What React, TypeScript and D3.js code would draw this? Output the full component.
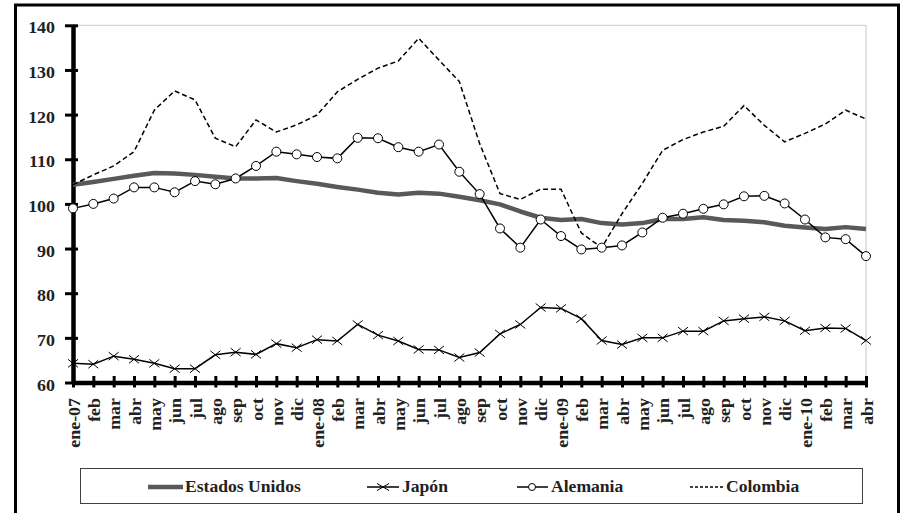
import React, { useEffect, useRef } from 'react';
import * as d3 from 'd3';

const months = [
  'ene-07', 'feb', 'mar', 'abr', 'may', 'jun', 'jul', 'ago', 'sep', 'oct', 'nov', 'dic',
  'ene-08', 'feb', 'mar', 'abr', 'may', 'jun', 'jul', 'ago', 'sep', 'oct', 'nov', 'dic',
  'ene-09', 'feb', 'mar', 'abr', 'may', 'jun', 'jul', 'ago', 'sep', 'oct', 'nov', 'dic',
  'ene-10', 'feb', 'mar', 'abr',
];

const estadosUnidos = [
  104.3, 104.9, 105.6, 106.3, 106.9, 106.8, 106.5, 106.1, 105.7, 105.7, 105.8, 105.1,
  104.5, 103.8, 103.2, 102.5, 102.1, 102.5, 102.3, 101.6, 100.8, 99.9, 98.3, 96.9,
  96.4, 96.6, 95.7, 95.4, 95.7, 96.6, 96.6, 97.0, 96.4, 96.2, 95.9, 95.1,
  94.7, 94.4, 94.8, 94.4,
];

const japon = [
  64.3, 64.1, 65.9, 65.2, 64.3, 63.1, 63.1, 66.2, 66.8, 66.3, 68.7, 67.8,
  69.6, 69.3, 73.0, 70.6, 69.3, 67.4, 67.3, 65.6, 66.7, 70.9, 73.0, 76.8,
  76.6, 74.3, 69.4, 68.5, 70.0, 70.0, 71.5, 71.5, 73.8, 74.3, 74.7, 73.8,
  71.6, 72.2, 72.1, 69.4,
];

const alemania = [
  99.0, 100.0, 101.2, 103.7, 103.7, 102.6, 105.1, 104.4, 105.7, 108.5, 111.7, 111.1,
  110.5, 110.2, 114.8, 114.7, 112.7, 111.7, 113.3, 107.2, 102.2, 94.5, 90.2, 96.5,
  92.8, 89.8, 90.2, 90.7, 93.6, 96.9, 97.8, 98.9, 99.9, 101.7, 101.8, 100.1,
  96.5, 92.5, 92.1, 88.3,
];

const colombia = [
  104.3, 106.5, 108.5, 111.7, 121.0, 125.3, 123.3, 114.7, 112.8, 118.8, 116.1, 117.7,
  119.9, 125.1, 127.9, 130.4, 132.0, 137.1, 132.2, 127.4, 113.5, 102.3, 101.0, 103.3,
  103.3, 93.5, 90.2, 97.8, 104.6, 112.0, 114.4, 116.1, 117.4, 122.0, 117.6, 113.9,
  115.8, 117.9, 121.0, 119.0,
];

const yTicks = [60, 70, 80, 90, 100, 110, 120, 130, 140];

const App = () => {
  const chartRef = useRef<SVGSVGElement>(null);

  useEffect(() => {
    if (!chartRef.current) return;
    const svg = d3.select(chartRef.current);
    svg.selectAll('*').remove();

    const font = '"Liberation Serif", "Times New Roman", serif';
    const x = d3.scaleLinear().domain([0, months.length - 1]).range([73, 866]);
    const y = d3.scaleLinear().domain([60, 140]).range([382.5, 25.3]);

    // outer frame
    svg.append('rect')
      .attr('x', 15.5).attr('y', 5)
      .attr('width', 883).attr('height', 530)
      .attr('fill', 'white')
      .attr('stroke', '#000')
      .attr('stroke-width', 3);

    // light plot border (top + right)
    svg.append('path')
      .attr('d', `M${x(0)},${y(140)}H${x(months.length - 1)}V${y(60)}`)
      .attr('fill', 'none')
      .attr('stroke', '#c8c8c8');

    // y axis
    const yAxis = svg.append('g')
      .attr('transform', `translate(${x(0)},0)`)
      .call(d3.axisLeft(y).tickValues(yTicks).tickSizeInner(8).tickSizeOuter(0).tickFormat(() => ''));
    yAxis.select('.domain').attr('stroke', '#000').attr('stroke-width', 4.5);
    yAxis.selectAll('.tick line').attr('x1', 5).attr('x2', -8).attr('stroke', '#000').attr('stroke-width', 3);

    svg.append('g').selectAll('text')
      .data(yTicks)
      .enter()
      .append('text')
      .attr('transform', d => `translate(55,${y(d) + 8}) scale(1.12,1)`)
      .attr('text-anchor', 'end')
      .attr('font-family', font)
      .attr('font-weight', 'bold')
      .attr('font-size', 16)
      .attr('fill', '#222')
      .text(d => d);

    // x axis
    const xAxis = svg.append('g')
      .attr('transform', `translate(0,${y(60)})`)
      .call(d3.axisBottom(x).tickValues(d3.range(months.length)).tickSizeInner(5).tickSizeOuter(0).tickFormat(() => ''));
    xAxis.select('.domain').attr('stroke', '#000').attr('stroke-width', 4.5);
    xAxis.selectAll('.tick line').attr('y1', -6.5).attr('y2', 5).attr('stroke', '#000').attr('stroke-width', 3);

    svg.append('g').selectAll('text')
      .data(months)
      .enter()
      .append('text')
      .attr('transform', (d, i) => `translate(${x(i) + 6.5},398) rotate(-90) scale(1.12,1)`)
      .attr('text-anchor', 'end')
      .attr('font-family', font)
      .attr('font-weight', 'bold')
      .attr('font-size', 16)
      .attr('fill', '#222')
      .text(d => d);

    const line = d3.line<number>().x((d, i) => x(i)).y(d => y(d));

    // Estados Unidos
    svg.append('path')
      .attr('d', line(estadosUnidos))
      .attr('fill', 'none')
      .attr('stroke', '#595959')
      .attr('stroke-width', 4.5)
      .attr('stroke-linejoin', 'round');

    // Colombia
    svg.append('path')
      .attr('d', line(colombia))
      .attr('fill', 'none')
      .attr('stroke', '#000')
      .attr('stroke-width', 1.5)
      .attr('stroke-dasharray', '5,3');

    // Japón
    svg.append('path')
      .attr('d', line(japon))
      .attr('fill', 'none')
      .attr('stroke', '#000')
      .attr('stroke-width', 1.5);
    svg.append('g').selectAll('path')
      .data(japon)
      .enter()
      .append('path')
      .attr('transform', (d, i) => `translate(${x(i)},${y(d)})`)
      .attr('d', 'M-5,-4L5,4M-5,4L5,-4')
      .attr('stroke', '#000')
      .attr('stroke-width', 1);

    // Alemania
    svg.append('path')
      .attr('d', line(alemania))
      .attr('fill', 'none')
      .attr('stroke', '#000')
      .attr('stroke-width', 1.5);
    svg.append('g').selectAll('circle')
      .data(alemania)
      .enter()
      .append('circle')
      .attr('cx', (d, i) => x(i))
      .attr('cy', d => y(d))
      .attr('r', 4.5)
      .attr('fill', 'white')
      .attr('stroke', '#000')
      .attr('stroke-width', 1);

    // legend
    svg.append('rect')
      .attr('x', 80.5).attr('y', 468.5)
      .attr('width', 782).attr('height', 35)
      .attr('fill', 'white')
      .attr('stroke', '#404040')
      .attr('stroke-width', 1);

    const ly = 487;
    const legend = svg.append('g');
    legend.append('line').attr('x1', 148).attr('x2', 183).attr('y1', ly).attr('y2', ly)
      .attr('stroke', '#595959').attr('stroke-width', 4.5);
    legend.append('line').attr('x1', 367).attr('x2', 399).attr('y1', ly).attr('y2', ly)
      .attr('stroke', '#000').attr('stroke-width', 1.5);
    legend.append('path').attr('transform', `translate(383,${ly})`).attr('d', 'M-6,-3.5L6,3.5M-6,3.5L6,-3.5')
      .attr('stroke', '#000').attr('stroke-width', 1);
    legend.append('line').attr('x1', 517).attr('x2', 548).attr('y1', ly).attr('y2', ly)
      .attr('stroke', '#000').attr('stroke-width', 1.5);
    legend.append('circle').attr('cx', 532).attr('cy', ly).attr('r', 3.5)
      .attr('fill', 'white').attr('stroke', '#000').attr('stroke-width', 1);
    legend.append('line').attr('x1', 690).attr('x2', 724).attr('y1', ly).attr('y2', ly)
      .attr('stroke', '#000').attr('stroke-width', 1.5).attr('stroke-dasharray', '3,2');

    const legendItems = [
      { label: 'Estados Unidos', x: 185 },
      { label: 'Japón', x: 402 },
      { label: 'Alemania', x: 551 },
      { label: 'Colombia', x: 726 },
    ];
    legend.selectAll('text')
      .data(legendItems)
      .enter()
      .append('text')
      .attr('transform', d => `translate(${d.x},492) scale(1.1,1)`)
      .attr('font-family', font)
      .attr('font-weight', 'bold')
      .attr('font-size', 16)
      .attr('fill', '#222')
      .text(d => d.label);
  }, []);

  return (
    <svg
      ref={chartRef}
      width={901}
      height={513}
      style={{ position: 'absolute', left: 0, top: 0, background: 'white', display: 'block' }}
    />
  );
};

export default App;
